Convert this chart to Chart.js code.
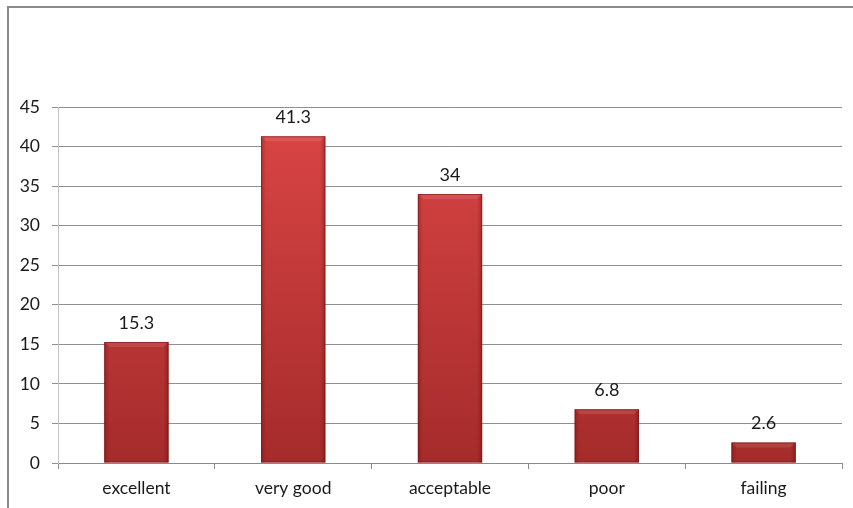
<!DOCTYPE html>
<html>
<head>
<meta charset="utf-8">
<script src="https://cdn.jsdelivr.net/npm/chart.js@4/dist/chart.umd.min.js"></script>
<style>
  html, body { margin: 0; padding: 0; background: #fff; }
  #wrap { position: relative; width: 853px; height: 508px; }
  #frame {
    position: absolute; left: 7px; top: 6px; right: -4px; bottom: -4px;
    border-left: 2px solid #8a8a8a; border-top: 2px solid #8a8a8a;
    pointer-events: none;
  }
</style>
</head>
<body>
<div id="wrap">
  <div id="frame"></div>
  <canvas id="gradeChart" width="853" height="508"></canvas>
</div>
<script>
// оценки и доли (%)
const categories = ['excellent', 'very good', 'acceptable', 'poor', 'failing'];
const shares = [15.3, 41.3, 34, 6.8, 2.6];
const yTicks = [0, 5, 10, 15, 20, 25, 30, 35, 40, 45];

Chart.defaults.font.family = 'Lato, "Open Sans", sans-serif';
Chart.defaults.font.size = 17.5;
Chart.defaults.color = '#1a1a1a';

// вертикальный градиент для столбиков
function barFill(context) {
  const chart = context.chart;
  const area = chart.chartArea;
  if (!area) return '#c23a3a';
  const g = chart.ctx.createLinearGradient(0, area.top, 0, area.bottom);
  g.addColorStop(0, '#dc4646');
  g.addColorStop(1, '#a52b2b');
  return g;
}

// фаска по краям столбиков
const bevelPlugin = {
  id: 'bevel',
  afterDatasetsDraw(chart) {
    const ctx = chart.ctx;
    chart.getDatasetMeta(0).data.forEach(bar => {
      const left = bar.x - bar.width / 2, right = bar.x + bar.width / 2;
      const top = bar.y, bottom = bar.base;
      const e = Math.min(5, (bottom - top) / 3);
      ctx.save();
      const h = ctx.createLinearGradient(left, 0, right, 0);
      h.addColorStop(0, 'rgba(90,0,0,0.28)');
      h.addColorStop(0.08, 'rgba(90,0,0,0)');
      h.addColorStop(0.92, 'rgba(90,0,0,0)');
      h.addColorStop(1, 'rgba(90,0,0,0.32)');
      ctx.fillStyle = h;
      ctx.fillRect(left, top, right - left, bottom - top);
      // верхняя грань
      ctx.beginPath();
      ctx.moveTo(left, top);
      ctx.lineTo(right, top);
      ctx.lineTo(right - e, top + e);
      ctx.lineTo(left + e, top + e);
      ctx.closePath();
      ctx.fillStyle = 'rgba(255,190,190,0.15)';
      ctx.fill();
      ctx.strokeStyle = 'rgba(120,20,20,0.6)';
      ctx.lineWidth = 1;
      ctx.strokeRect(left + 0.5, top + 0.5, right - left - 1, bottom - top - 1);
      ctx.restore();
    });
  }
};

// подписи значений над столбиками
const valueLabels = {
  id: 'valueLabels',
  afterDatasetsDraw(chart) {
    const ctx = chart.ctx;
    const data = chart.data.datasets[0].data;
    ctx.save();
    ctx.font = '18px Lato, "Open Sans", sans-serif';
    ctx.fillStyle = '#1a1a1a';
    ctx.textAlign = 'center';
    ctx.textBaseline = 'middle';
    chart.getDatasetMeta(0).data.forEach((bar, i) => {
      ctx.fillText(String(data[i]), bar.x, bar.y - 19);
    });
    ctx.restore();
  }
};

new Chart(document.getElementById('gradeChart'), {
  type: 'bar',
  data: {
    labels: categories,
    datasets: [{
      data: shares,
      backgroundColor: barFill,
      borderWidth: 0,
      categoryPercentage: 0.41,
      barPercentage: 1
    }]
  },
  options: {
    responsive: false,
    animation: false,
    events: [],
    layout: { padding: { top: 107, right: 11, left: 0, bottom: 0 } },
    plugins: { legend: { display: false }, tooltip: { enabled: false } },
    scales: {
      x: {
        grid: { drawOnChartArea: false, color: '#8a8a8a', tickLength: 6 },
        border: { color: '#8a8a8a' },
        ticks: { padding: 9 },
        afterFit: s => { s.height = 45; }
      },
      y: {
        min: 0,
        max: 45,
        afterBuildTicks: s => { s.ticks = yTicks.map(v => ({ value: v })); },
        grid: { color: '#8f8f8f', tickLength: 6 },
        border: { color: '#c4c4c4' },
        ticks: { padding: 12 },
        afterFit: s => { s.width = 58; }
      }
    }
  },
  plugins: [bevelPlugin, valueLabels]
});
</script>
</body>
</html>
